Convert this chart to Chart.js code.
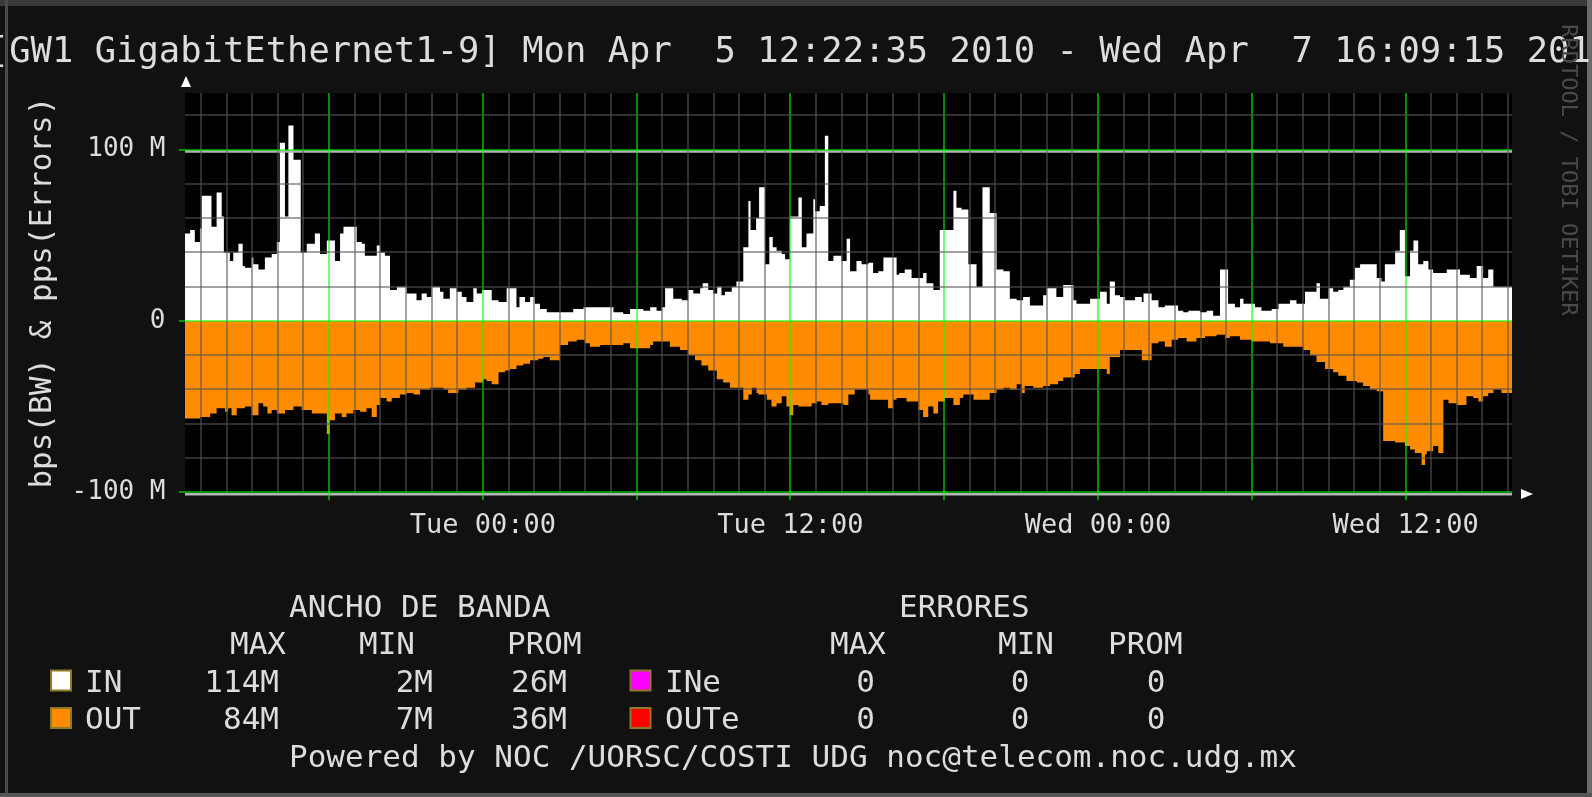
<!DOCTYPE html>
<html lang="es">
<head>
<meta charset="UTF-8" />
<title>GW1 GigabitEthernet1-9</title>
<script src="https://cdn.jsdelivr.net/npm/chart.js"></script>
<style>
  html, body { margin:0; padding:0; background:#111; }
  body { width:1592px; height:797px; overflow:hidden; }
  #graph { display:block; }
</style>
</head>
<body>
<canvas id="graph" width="1592" height="797"></canvas>
<script>
// x values are minutes after Mon Apr 5 12:22:35 2010, values in Mbps
const startSec = 12 * 3600 + 22 * 60 + 35;
const spanMin = 3106.67; // up to Wed Apr 7 16:09:15 2010

const inTime = [0,12,23,35,39,62,74,86,91,105,113,125,135,140,156,160,172,187,203,215,222,234,242,254,271,285,304,316,332,351,363,371,402,414,421,449,457,468,480,496,519,542,554,566,577,597,605,620,636,648,659,675,683,695,718,734,753,776,783,796,808,819,831,847,909,933,1003,1026,
  1042,1073,1089,1104,1116,1124,1143,1163,1178,1190,1206,1212,1225,1237,1246,1256,1264,1280,1291,1307,1319,1324,1337,1344,1358,1368,1376,1385,1397,1405,1416,1436,1444,1455,1471,1475,1486,1498,1506,1518,1537,1549,1557,1572,1584,1600,1611,1623,1635,1666,1672,1685,1701,1728,1736,1752,1767,1799,1806,1818,1834,1853,1867,1884,1900,1916,1931,1947,1962,1978,2009,2017,2040,2056,2080,2087,
  2119,2142,2158,2165,2177,2189,2201,2224,2240,2244,2263,2279,2294,2325,2337,2349,2376,2392,2407,2423,2442,2458,2470,2478,2505,2520,2544,2560,2587,2602,2622,2649,2657,2677,2688,2700,2712,2727,2739,2751,2790,2801,2809,2833,2844,2856,2868,2876,2887,2899,2911,2922,2954,2985,3008,3024,3039,3051,3063,3071];
const inMbps = [56,51,53,46,54,73,55,75,61,40,35,40,45,32,31,37,33,30,37,39,46,104,61,114,94,40,45,51,39,47,35,51,55,46,45,38,44,40,38,18,20,16,12,16,14,20,17,13,19,17,14,11,19,16,18,12,11,19,8,14,11,14,10,7,5,7,8,5,
  4,7,6,8,6,8,19,13,12,18,16,19,22,18,16,20,15,17,20,23,43,70,53,60,78,33,49,43,41,39,36,61,72,43,51,71,64,67,108,35,38,35,48,29,35,33,34,28,29,37,27,28,30,25,28,22,18,53,76,66,65,33,20,78,63,30,29,13,12,14,9,15,19,14,21,12,
  10,13,17,10,23,15,14,12,14,11,16,12,8,9,6,5,6,5,6,3,30,10,8,13,10,8,6,7,10,12,10,17,22,13,19,17,18,20,24,31,33,25,23,33,41,53,26,41,47,33,35,30,28,30,27,25,32,25,30,20];

const outTime = [0,35,59,74,94,101,109,121,140,156,172,183,193,203,215,234,254,273,297,332,339,351,367,378,394,410,425,437,449,457,472,484,503,519,535,550,574,605,616,640,659,679,698,706,718,734,749,761,776,792,808,827,839,854,878,897,917,936,948,972,1026,
  1042,1089,1096,1135,1159,1178,1194,1209,1225,1245,1260,1276,1307,1319,1327,1338,1342,1362,1373,1385,1397,1408,1416,1424,1436,1467,1479,1490,1506,1541,1553,1568,1600,1604,1646,1658,1666,1689,1717,1728,1740,1752,1763,1779,1799,1814,1822,1846,1884,1900,1916,1931,1947,1959,1966,1986,2009,2025,2044,2056,2083,2095,
  2158,2165,2189,2240,2263,2279,2294,2310,2325,2345,2368,2388,2415,2435,2446,2470,2497,2540,2571,2618,2634,2649,2669,2688,2700,2719,2743,2758,2774,2790,2805,2833,2856,2868,2879,2895,2903,2907,2922,2934,2946,2958,2977,3000,3016,3028,3039,3051,3063,3082,3086];
const outMbps = [60,57,56,54,51,53,51,55,51,50,55,48,50,54,52,54,52,50,52,54,66,58,54,56,54,52,53,51,56,49,45,47,45,43,42,43,40,39,40,42,40,39,36,34,35,37,30,29,28,26,25,23,22,21,23,14,12,11,13,15,14,
  13,16,14,12,15,17,20,23,26,29,34,36,39,46,43,39,42,43,46,50,48,44,50,55,49,50,48,47,49,48,49,43,40,43,46,51,46,45,47,52,56,50,54,47,45,49,45,43,46,42,40,39,40,37,42,38,39,38,37,35,33,31,
  28,31,21,17,23,13,12,15,11,10,12,10,9,8,10,9,11,12,13,15,17,20,24,28,30,32,35,36,38,40,41,70,71,73,75,77,84,78,76,73,77,46,48,49,44,45,47,44,42,40,42];

// link capacity rules
const hruleVal = [100, -100];

const xLabelMin = [697.42, 1417.42, 2137.42, 2857.42];
const xLabelText = ['Tue 00:00', 'Tue 12:00', 'Wed 00:00', 'Wed 12:00'];
const yLabelVal = [100, 0, -100];
const yLabelText = ['100 M', '0', '-100 M'];

const statHeads = ['MAX', 'MIN', 'PROM'];
const inStats = ['114M', '2M', '26M'];
const outStats = ['84M', '7M', '36M'];
const inErrStats = ['0', '0', '0'];
const outErrStats = ['0', '0', '0'];

const GRID = 'rgba(85,85,85,0.55)';
const MGRID = 'rgba(0,255,0,0.55)';
const TXT = '#dcdcdc';
const MONO = '"DejaVu Sans Mono", monospace';

function steps(t, v, sign) {
  const pts = t.map((m, i) => ({ x: m, y: sign * v[i] }));
  pts.push({ x: spanMin, y: sign * v[v.length - 1] });
  return pts;
}
function clockHour(m) { return Math.round((startSec / 60 + m) / 60) % 24; }

const decor = {
  id: 'decor',
  beforeDraw(chart) {
    const { ctx, chartArea: a } = chart;
    ctx.save();
    ctx.fillStyle = '#111';
    ctx.fillRect(0, 0, 1592, 797);
    // outer frame
    ctx.fillStyle = '#3a3a3a'; ctx.fillRect(0, 0, 1592, 6);
    ctx.fillStyle = '#4a4a4a'; ctx.fillRect(5, 0, 3, 797);
    ctx.fillStyle = '#6a6a6a'; ctx.fillRect(1587, 0, 5, 797);
    ctx.fillStyle = '#555'; ctx.fillRect(0, 793, 1592, 4);
    ctx.fillStyle = '#000';
    ctx.fillRect(a.left, a.top, a.right - a.left, a.bottom - a.top);
    ctx.restore();
  },
  afterDatasetsDraw(chart) {
    // gray rules just under the green major grid lines
    const { ctx, chartArea: a, scales } = chart;
    ctx.save();
    ctx.strokeStyle = '#b4b4b4';
    ctx.lineWidth = 2.5;
    hruleVal.forEach((v) => {
      const y = scales.y.getPixelForValue(v) + 2;
      ctx.beginPath(); ctx.moveTo(a.left, y); ctx.lineTo(a.right, y); ctx.stroke();
    });
    ctx.restore();
  },
  afterDraw(chart) {
    const ctx = chart.ctx;
    ctx.save();
    // axis arrows
    ctx.fillStyle = '#fff';
    ctx.beginPath(); ctx.moveTo(181, 87); ctx.lineTo(191, 87); ctx.lineTo(186, 76); ctx.fill();
    ctx.beginPath(); ctx.moveTo(1521, 489); ctx.lineTo(1521, 499); ctx.lineTo(1533, 494); ctx.fill();

    // title
    ctx.fillStyle = TXT;
    ctx.textBaseline = 'alphabetic';
    ctx.textAlign = 'center';
    ctx.font = '35.5px ' + MONO;
    ctx.fillText('[GW1 GigabitEthernet1-9] Mon Apr  5 12:22:35 2010 - Wed Apr  7 16:09:15 2010', 800, 62);

    // legend
    ctx.font = '31px ' + MONO;
    ctx.textAlign = 'left';
    ctx.fillText('ANCHO DE BANDA', 289, 617);
    ctx.fillText('ERRORES', 899, 617);
    [230, 359, 507].forEach((x, i) => ctx.fillText(statHeads[i], x, 654));
    [830, 998, 1108].forEach((x, i) => ctx.fillText(statHeads[i], x, 654));
    ctx.fillText('IN', 85, 691.5);
    ctx.fillText('OUT', 85, 729);
    ctx.fillText('INe', 665, 691.5);
    ctx.fillText('OUTe', 665, 729);
    ctx.fillText('Powered by NOC /UORSC/COSTI UDG noc@telecom.noc.udg.mx', 289, 766.5);
    ctx.textAlign = 'right';
    [279, 433, 567].forEach((x, i) => { ctx.fillText(inStats[i], x, 691.5); ctx.fillText(outStats[i], x, 729); });
    ctx.textAlign = 'center';
    [865.5, 1020, 1156].forEach((x, i) => { ctx.fillText(inErrStats[i], x, 691.5); ctx.fillText(outErrStats[i], x, 729); });

    const box = (x, y, c) => {
      ctx.fillStyle = c; ctx.fillRect(x, y, 20, 20);
      ctx.strokeStyle = '#8c7a28'; ctx.lineWidth = 2; ctx.strokeRect(x, y, 20, 20);
    };
    box(51, 670.5, '#ffffff');
    box(51, 708, '#ff8c00');
    box(630.5, 670.5, '#ff00ff');
    box(630.5, 708, '#ff0000');

    // rrdtool watermark
    ctx.translate(1568, 170);
    ctx.rotate(Math.PI / 2);
    ctx.fillStyle = '#4a4a4a';
    ctx.font = '22px ' + MONO;
    ctx.textAlign = 'center';
    ctx.textBaseline = 'middle';
    ctx.fillText('RRDTOOL / TOBI OETIKER', 0, 0);
    ctx.restore();
  }
};

new Chart(document.getElementById('graph'), {
  type: 'line',
  data: {
    datasets: [
      { label: 'IN', data: steps(inTime, inMbps, 1), stepped: 'after', fill: 'origin',
        backgroundColor: '#ffffff', borderWidth: 0, pointRadius: 0 },
      { label: 'OUT', data: steps(outTime, outMbps, -1), stepped: 'after', fill: 'origin',
        backgroundColor: '#ff8c00', borderWidth: 0, pointRadius: 0 }
    ]
  },
  options: {
    responsive: false,
    animation: false,
    devicePixelRatio: 1,
    layout: { padding: { left: 0, top: 93, right: 80, bottom: 0 } },
    plugins: { legend: { display: false }, tooltip: { enabled: false } },
    scales: {
      x: {
        type: 'linear', min: 0, max: spanMin,
        afterBuildTicks: (axis) => {
          const t = [];
          for (let m = (3600 - startSec % 3600) / 60; m <= spanMin; m += 60) t.push({ value: m });
          axis.ticks = t;
        },
        afterFit: (axis) => { axis.height = 304.7; },
        border: { display: false },
        grid: {
          z: 1, lineWidth: 2, tickLength: 8,
          color: (c) => clockHour(c.tick.value) % 6 === 0 ? MGRID : GRID,
          tickColor: (c) => clockHour(c.tick.value) % 6 === 0 ? MGRID : 'rgba(0,0,0,0)'
        },
        ticks: {
          autoSkip: false, maxRotation: 0, padding: 9, color: TXT,
          font: { family: MONO, size: 27 },
          callback: (v) => {
            const i = xLabelMin.findIndex((m) => Math.abs(m - v) < 1);
            return i < 0 ? '' : xLabelText[i];
          }
        }
      },
      y: {
        min: -100, max: 133,
        afterBuildTicks: (axis) => {
          const t = [];
          for (let v = -100; v <= 120; v += 20) t.push({ value: v });
          axis.ticks = t;
        },
        afterFit: (axis) => { axis.width = 185; },
        border: { display: false },
        grid: {
          z: 1, lineWidth: 2, tickLength: 6,
          color: (c) => c.tick.value % 100 === 0 ? MGRID : GRID,
          tickColor: (c) => c.tick.value % 100 === 0 ? MGRID : 'rgba(0,0,0,0)'
        },
        ticks: {
          padding: 13.5, color: TXT, font: { family: MONO, size: 26 },
          callback: (v) => {
            const i = yLabelVal.indexOf(v);
            return i < 0 ? '' : yLabelText[i];
          }
        },
        title: {
          display: true, text: 'bps(BW) & pps(Errors)', color: TXT,
          font: { family: MONO, size: 31 }, padding: { top: 24, bottom: 0 }
        }
      }
    }
  },
  plugins: [decor]
});
</script>
</body>
</html>
